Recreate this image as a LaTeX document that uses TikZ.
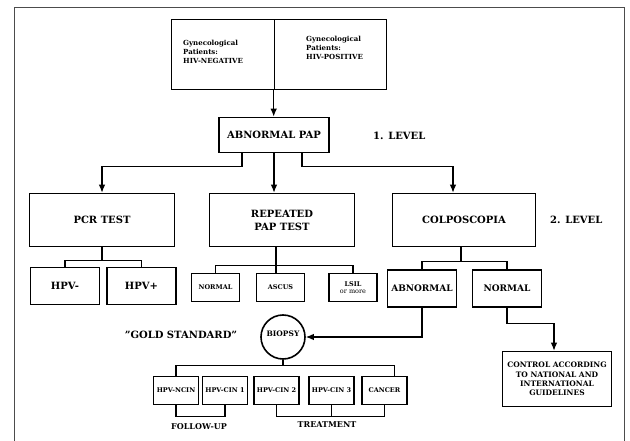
\documentclass[tikz,border=0pt]{standalone}
\usepackage{fontspec}
\setmainfont{DejaVu Serif}
\usetikzlibrary{arrows.meta,positioning,calc}
\tikzset{
  basic/.style   = {draw, rectangle, line width=1.6pt, align=center, inner sep=1pt,
                    font=\fontsize{10}{13}\selectfont\bfseries},
  stage/.style   = {basic, minimum width=145pt, minimum height=53pt},
  result/.style  = {basic, minimum width=69pt, minimum height=37pt},
  finding/.style = {basic, minimum width=48pt, minimum height=28pt,
                    font=\fontsize{6.5}{7.5}\selectfont\bfseries},
  grade/.style   = {basic, minimum width=45pt, minimum height=28pt,
                    font=\fontsize{6.5}{7.5}\selectfont\bfseries},
  note/.style    = {inner sep=0pt, align=left, font=\fontsize{7}{9}\selectfont\bfseries},
  tag/.style     = {inner sep=0pt, font=\fontsize{10}{12}\selectfont\bfseries},
  small tag/.style = {inner sep=0pt, font=\fontsize{8}{10}\selectfont\bfseries},
  link/.style    = {line width=1.2pt},
  flow/.style    = {link, -{Latex[length=8pt,width=6.5pt]}},
  outer frame/.style = {line width=0.8pt, black!70}
}

\begin{document}
\begin{tikzpicture}[x=1pt, y=-1pt]
\useasboundingbox (0,0) rectangle (630,441);
\draw[outer frame] (14,441) -- (14,7) -- (624,7) -- (624,441);

% patient groups
\node[basic, minimum width=103pt, minimum height=70pt] (neg) at (223,54.5) {};
\node[basic, minimum width=112pt, minimum height=70pt, right=-1.6pt of neg] (pos) {};
\node[note, anchor=west] (negtxt) at (183,52) {Gynecological\\Patients:\\HIV-NEGATIVE};
\node[note, anchor=west] (postxt) at (306,48) {Gynecological\\Patients:\\HIV-POSITIVE};

% first level
\node[basic, minimum width=110pt, minimum height=35pt] (pap) at (274,135) {ABNORMAL PAP};
\node[tag, anchor=west] (lvl1) at (373,136) {1. LEVEL};
\draw[flow] (pos.south west) -- (pos.south west |- pap.north);

% second level
\node[stage] (pcr) at (102,220) {PCR TEST};
\node[stage] (rep) at (282,220) {REPEATED\\PAP TEST};
\node[stage, minimum width=143pt] (colpo) at (464,220) {COLPOSCOPIA};
\node[tag, anchor=west] (lvl2) at (550,220) {2. LEVEL};

\draw[flow] ([xshift=-32pt]pap.south) -- ++(0,13) -| (pcr.north);
\draw[flow] (pap.south) -- (pap.south |- rep.north);
\draw[flow] ([xshift=28pt]pap.south) -- ++(0,13) -| ([xshift=-11pt]colpo.north);

% results of the tests
\node[result] (hpvn) at (65,286) {HPV-};
\node[result] (hpvp) at (141.5,286) {HPV+};
\draw[link] (pcr.south) -- ++(0,13) coordinate (pcrbar);
\draw[link] (hpvn.north) |- (pcrbar) -| (hpvp.north);

\node[finding] (norm) at (215.5,287.5) {NORMAL};
\node[finding] (ascus) at (280.5,287.5) {ASCUS};
\node[finding] (lsil) at (353,287.5) {LSIL\\{\mdseries or more}};
\draw[link] ([xshift=-6pt]rep.south) -- ++(0,18) coordinate (repbar) -- (repbar |- ascus.north);
\draw[link] (norm.north) |- (repbar) -| (lsil.north);

\node[result, font=\fontsize{9}{11}\selectfont\bfseries] (abn) at (422,288.5) {ABNORMAL};
\node[result, font=\fontsize{9}{11}\selectfont\bfseries] (normc) at (507,288.5) {NORMAL};
\draw[link] ([xshift=-3pt]colpo.south) -- ++(0,14) coordinate (colbar);
\draw[link] (abn.north) |- (colbar) -| (normc.north);

% biopsy and control
\node[circle, draw, line width=1.6pt, minimum size=44pt, inner sep=0pt,
      font=\fontsize{7.5}{9}\selectfont\bfseries] (biopsy) at (283,337) {\raisebox{7pt}{BIOPSY}};
\node[tag] (gold) at (181,335) {\char"0022 GOLD STANDARD\char"0022};
\draw[flow] (abn.south) |- (biopsy.east);

\node[basic, minimum width=109pt, minimum height=55pt,
      font=\fontsize{7.5}{9.4}\selectfont\bfseries] (ctrl) at (557,379)
      {CONTROL ACCORDING\\TO NATIONAL AND\\INTERNATIONAL\\GUIDELINES};
\draw[flow] (normc.south) -- ++(0,16) -| ([xshift=-3pt]ctrl.north);

% histology grades
\foreach \name/\x/\txt in {ncin/176/HPV-NCIN, cin1/225/HPV-CIN 1, cin2/276.5/HPV-CIN 2,
                           cin3/331.5/HPV-CIN 3, cancer/384.5/CANCER}
  \node[grade] (\name) at (\x,390.5) {\txt};

\draw[link] (biopsy.south) -- ++(0,6) coordinate (biobar);
\draw[link] (ncin.north) |- (biobar) -| ([xshift=10pt]cancer.north);

\draw[link] (ncin.south) -- ++(0,11) -| (cin1.south);
\draw[link] (cin2.south) -- ++(0,11) -| (cancer.south);
\draw[link] (cin3.south) -- ++(0,11);

\node[small tag] (follow) at (199,427) {FOLLOW-UP};
\node[small tag] (treat) at (327,425) {TREATMENT};
\end{tikzpicture}
\end{document}
